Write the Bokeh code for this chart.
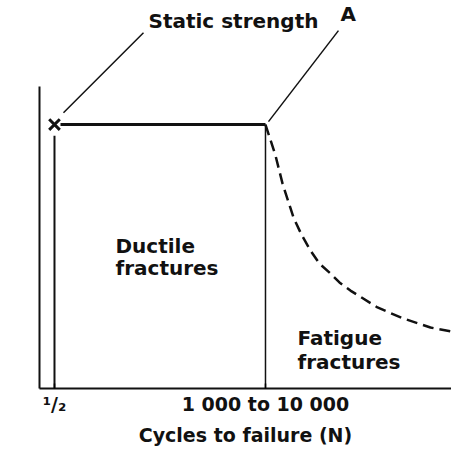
from bokeh.plotting import figure
from bokeh.models import FixedTicker, Label, ColumnDataSource
from bokeh.core.properties import value
from bokeh.embed import file_html
from bokeh.resources import INLINE

# ---- data (x in log10(cycles to failure), y = cyclic load / static strength) ----
tick_x = [-0.3, 3.5]                       # log10(1/2), log10(~3000)
tick_labels = ["\u00b9/\u2082", "1 000 to 10 000"]
static_x = -0.3
static_load = 1.0
transition_x = 3.5
fatigue_x = [3.5, 3.68, 3.806, 4.004, 4.148, 4.31, 4.472, 4.67, 4.832, 5.03,
             5.517, 5.985, 6.471, 6.849]
fatigue_y = [1.0, 0.883, 0.777, 0.648, 0.583, 0.523, 0.473, 0.436, 0.402, 0.371,
             0.307, 0.265, 0.231, 0.216]

FONT = value("DejaVu Sans")
INK = "#111111"

x_start, x_end = -0.57, 6.85
y_start, y_end = 0.0, 1.47

p = figure(width=451, height=449, output_backend="svg", toolbar_location=None,
           x_range=(x_start, x_end), y_range=(y_start, y_end),
           min_border_left=39, min_border_right=0, min_border_top=0,
           min_border_bottom=61)
p.outline_line_color = None
p.xgrid.visible = False
p.ygrid.visible = False
p.background_fill_color = "white"

# axes
p.xaxis.ticker = FixedTicker(ticks=tick_x)
p.xaxis.major_label_overrides = {t: l for t, l in zip(tick_x, tick_labels)}
p.xaxis.bounds = (x_start, x_end)
p.xaxis.axis_line_width = 2
p.xaxis.axis_line_color = INK
p.xaxis.major_tick_out = 0
p.xaxis.major_tick_in = 5
p.xaxis.major_tick_line_width = 1.5
p.xaxis.minor_tick_line_color = None
p.xaxis.major_label_text_font = "DejaVu Sans"
p.xaxis.major_label_text_font_style = "bold"
p.xaxis.major_label_text_font_size = "19px"
p.xaxis.major_label_text_color = INK
p.xaxis.major_label_standoff = 4
p.xaxis.axis_label = "Cycles to failure (N)"
p.xaxis.axis_label_text_font = "DejaVu Sans"
p.xaxis.axis_label_text_font_style = "bold"
p.xaxis.axis_label_text_font_size = "19px"
p.xaxis.axis_label_text_color = INK
p.xaxis.axis_label_standoff = 6

p.yaxis.bounds = (0, 1.144)
p.yaxis.axis_line_width = 2
p.yaxis.axis_line_color = INK
p.yaxis.major_tick_line_color = None
p.yaxis.minor_tick_line_color = None
p.yaxis.major_label_text_font_size = "0px"
p.yaxis.major_label_text_color = None

# ductile region boundaries
p.line([static_x, static_x], [0, 0.958], line_width=2, line_color=INK)
p.line([-0.192, transition_x], [static_load, static_load], line_width=3, line_color=INK)
p.line([transition_x, transition_x], [0, static_load], line_width=1.5, line_color=INK)
p.scatter([static_x], [static_load], marker="x", size=15, line_width=3, line_color=INK)

# fatigue curve
p.line(fatigue_x, fatigue_y, line_width=2.5, line_color=INK, line_dash="11 6")

# leader lines
p.line([-0.138, 1.303], [1.045, 1.348], line_width=1.5, line_color=INK)
p.line([3.554, 4.814], [1.011, 1.356], line_width=1.5, line_color=INK)

src = ColumnDataSource(dict(
    x=[1.393, 4.85, 0.798, 0.798, 4.076, 4.076],
    y=[1.394, 1.417, 0.538, 0.455, 0.193, 0.102],
    t=["Static strength", "A", "Ductile", "fractures", "Fatigue", "fractures"],
))
p.text(x="x", y="y", text="t", source=src, text_font=FONT, text_font_style="bold",
       text_font_size="20px", text_color=INK, text_baseline="middle", text_align="left")

p.add_layout(Label(x=-0.84, y=0.447, text="Cylic load", angle=1.5708,
                   text_font="DejaVu Sans", text_font_style="bold",
                   text_font_size="20px", text_color=INK,
                   text_align="center", text_baseline="middle"))

open("out.html", "w").write(file_html(p, INLINE))
